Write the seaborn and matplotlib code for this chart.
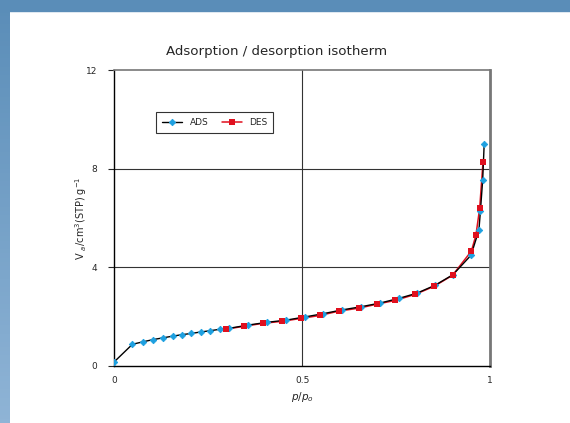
import numpy as np
import pandas as pd
import seaborn as sns
import matplotlib.pyplot as plt
from matplotlib.patches import Rectangle

# Adsorption branch
ads_p = [0.0, 0.049, 0.077, 0.104, 0.130, 0.156, 0.181, 0.206, 0.231, 0.256, 0.282,
         0.307, 0.357, 0.407, 0.458, 0.508, 0.556, 0.605, 0.656, 0.707, 0.757,
         0.805, 0.853, 0.901, 0.949, 0.970, 0.974, 0.980, 0.984]
ads_v = [0.16, 0.88, 0.98, 1.07, 1.14, 1.21, 1.27, 1.32, 1.38, 1.43, 1.49,
         1.53, 1.66, 1.77, 1.86, 1.99, 2.12, 2.27, 2.40, 2.55, 2.74,
         2.95, 3.27, 3.70, 4.49, 5.51, 6.28, 7.54, 9.00]

# Desorption branch
des_p = [0.297, 0.346, 0.396, 0.446, 0.498, 0.548, 0.599, 0.650, 0.700, 0.748,
         0.800, 0.851, 0.900, 0.950, 0.962, 0.972, 0.981]
des_v = [1.49, 1.61, 1.73, 1.81, 1.93, 2.05, 2.23, 2.34, 2.51, 2.66,
         2.90, 3.23, 3.68, 4.66, 5.30, 6.39, 8.29]

x_ticks = [0, 0.5, 1]
x_tick_labels = ['0', '0.5', '1']
y_ticks = [0, 4, 8, 12]

ads = pd.DataFrame({'p': ads_p, 'v': ads_v})
des = pd.DataFrame({'p': des_p, 'v': des_v})

sns.set_style('white')
plt.rcParams['font.family'] = ['DejaVu Sans']

fig = plt.figure(figsize=(5.7, 4.23), dpi=100)

# blue page border (top band + left gradient band)
fig.patches.append(Rectangle((0, 1 - 11 / 423), 1, 11 / 423, transform=fig.transFigure,
                             color='#5a8db8', zorder=0))
band = fig.add_axes([0, 0, 10 / 570, 1])
grad = np.linspace(0, 1, 100).reshape(-1, 1)
band.imshow(grad, aspect='auto', cmap=sns.blend_palette(['#5a8db8', '#8fb4d6'], as_cmap=True),
            extent=[0, 1, 0, 1], origin='upper')
band.axis('off')

ax = fig.add_axes([0.2, 0.1348, 0.66, 0.6997])

blue = '#1ea0e0'
red = '#e0101e'

sns.lineplot(data=des, x='p', y='v', sort=False, estimator=None, color=red, lw=1.1,
             marker='s', markersize=4, markeredgewidth=0, label='DES', ax=ax, zorder=3)
sns.lineplot(data=ads, x='p', y='v', sort=False, estimator=None, color='black', lw=1.0,
             marker='D', markersize=3.3, markerfacecolor=blue, markeredgecolor=blue,
             markeredgewidth=0.6, label='ADS', ax=ax, zorder=4)
sns.scatterplot(data=des, x='p', y='v', marker='s', s=16, color=red, linewidth=0,
                ax=ax, zorder=5, legend=False)

ax.set_xlim(0, 1)
ax.set_ylim(0, 12)
ax.set_xticks(x_ticks)
ax.set_xticklabels(x_tick_labels)
ax.set_yticks(y_ticks)
ax.tick_params(axis='x', length=0, pad=7, labelsize=6.5)
ax.tick_params(axis='y', left=True, length=4, width=0.8, pad=8, labelsize=6.5)

for v in [4, 8]:
    ax.axhline(v, color='#333333', lw=0.8, zorder=1)
ax.axvline(0.5, color='#333333', lw=0.8, zorder=1)

ax.spines['left'].set_color('black')
ax.spines['bottom'].set_color('black')
ax.spines['left'].set_linewidth(1.0)
ax.spines['bottom'].set_linewidth(1.0)
ax.spines['top'].set_color('#777777')
ax.spines['right'].set_color('#777777')
ax.spines['top'].set_linewidth(1.2)
ax.spines['right'].set_linewidth(2.0)

fig.text(277 / 570, 1 - 52 / 423, 'Adsorption / desorption isotherm', fontsize=9.6,
         fontweight='medium', ha='center', va='center')
ax.set_xlabel(r'$p/p_o$', fontsize=7.5, labelpad=4)
ax.set_ylabel(r'V $_{a}$/cm$^{3}$(STP) g$^{-1}$', fontsize=7, labelpad=-2)

handles, labels = ax.get_legend_handles_labels()
order = [labels.index('ADS'), labels.index('DES')]
leg = ax.legend([handles[i] for i in order], [labels[i] for i in order],
                ncol=2, loc='upper left', bbox_to_anchor=(0.1, 0.875), fontsize=6.5,
                frameon=True, fancybox=False, edgecolor='black', handlelength=2.2,
                columnspacing=1.5, borderpad=0.7)
leg.get_frame().set_linewidth(0.8)

fig.savefig('out.png', dpi=100)
